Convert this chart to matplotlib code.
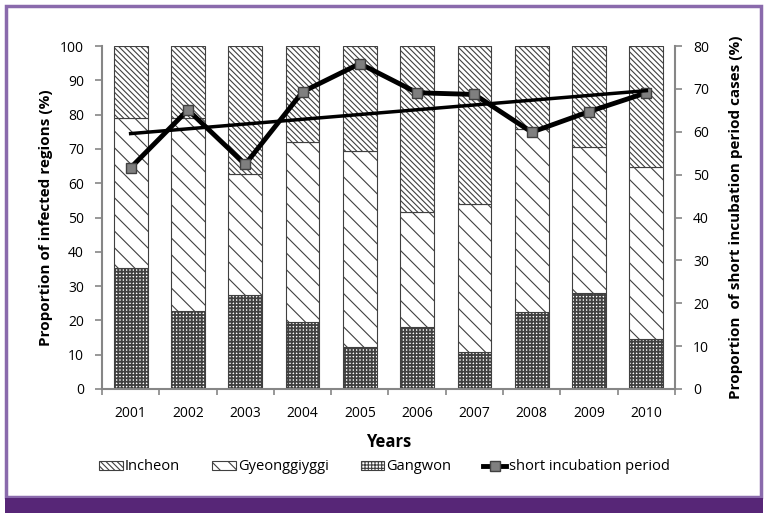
import numpy as np
import matplotlib
matplotlib.use("Agg")
import matplotlib.pyplot as plt
from matplotlib.patches import Rectangle

plt.rcParams['font.family'] = ['Open Sans', 'DejaVu Sans']
plt.rcParams['hatch.linewidth'] = 0.8

years = ['2001', '2002', '2003', '2004', '2005', '2006', '2007', '2008', '2009', '2010']
gangwon = [35.2, 22.7, 27.4, 19.6, 12.3, 18.0, 10.7, 22.4, 27.9, 14.6]
# cumulative top of Gyeonggi segment
gg_top = [78.9, 79.0, 62.7, 72.1, 69.5, 51.6, 53.9, 75.8, 70.6, 64.8]
gyeonggi = [t - g for t, g in zip(gg_top, gangwon)]
incheon = [100 - t for t in gg_top]
short_inc = [51.6, 65.1, 52.4, 69.3, 75.9, 69.1, 68.7, 59.9, 64.7, 69.1]

x = np.arange(len(years))
grey = '#868686'

fig = plt.figure(figsize=(7.69, 5.17), dpi=100)
ax = fig.add_axes([0.1326, 0.2476, 0.7452, 0.6634])

w = 0.59
ec = '#404040'
plt.rcParams['hatch.linewidth'] = 1.3
b1 = ax.bar(x, gangwon, w, color='white', edgecolor=ec, hatch='+++++', linewidth=0.8, label='Gangwon')
plt.rcParams['hatch.linewidth'] = 0.8
b2 = ax.bar(x, gyeonggi, w, bottom=gangwon, color='white', edgecolor=ec, hatch='\\\\', linewidth=0.8, label='Gyeonggiyggi')
b3 = ax.bar(x, incheon, w, bottom=gg_top, color='white', edgecolor=ec, hatch='\\\\\\\\\\\\', linewidth=0.8, label='Incheon')
for p in b1:
    if hasattr(p, 'set_hatch_linewidth'):
        p.set_hatch_linewidth(1.3)

ax.set_xlim(-0.5, len(years) - 0.5)
ax.set_ylim(0, 100)
ax.set_yticks(range(0, 101, 10))
ax.set_xticks(x)
ax.set_xticklabels(years)
ax.set_xticks(np.arange(-0.5, len(years), 1), minor=True)
ax.tick_params(axis='x', which='major', length=0, pad=12, labelsize=10)
ax.tick_params(axis='x', which='minor', length=4, color=grey, width=1.2)
ax.tick_params(axis='y', length=5, color=grey, width=1.2, labelsize=10, pad=8)
for s in ['top', 'right']:
    ax.spines[s].set_visible(False)
for s in ['left', 'bottom']:
    ax.spines[s].set_color(grey)
    ax.spines[s].set_linewidth(1.5)
ax.set_ylabel('Proportion of infected regions (%)', fontsize=11, fontweight='bold', labelpad=5)
ax.set_xlabel('Years', fontsize=12, fontweight='bold', labelpad=9)

ax2 = ax.twinx()
ax2.set_ylim(0, 80)
ax2.set_yticks(range(0, 81, 10))
ax2.tick_params(axis='y', length=5, color=grey, width=1.2, labelsize=10, pad=8)
for s in ['top', 'left', 'bottom']:
    ax2.spines[s].set_visible(False)
ax2.spines['right'].set_color(grey)
ax2.spines['right'].set_linewidth(1.5)
ax2.set_ylabel('Proportion  of short incubation period cases (%)', fontsize=11, fontweight='bold', labelpad=14)

ln, = ax2.plot(x, short_inc, color='black', lw=3.5, marker='s', markersize=7,
               markerfacecolor='#7f7f7f', markeredgecolor='#404040', markeredgewidth=1,
               label='short incubation period')
coef = np.polyfit(x, short_inc, 1)
ax2.plot(x, np.polyval(coef, x), color='black', lw=2.5)

fig.legend([b3, b2, b1, ln], ['Incheon', 'Gyeonggiyggi', 'Gangwon', 'short incubation period'],
           loc='center', bbox_to_anchor=(0.5, 0.097), ncol=4, frameon=False, fontsize=10.5,
           handlelength=1.6, handleheight=0.55, handletextpad=0.15, columnspacing=2.2)

# frame and bottom band
fig.patches.append(Rectangle((6 / 769, 1 - 497 / 517), 755 / 769, 491 / 517, transform=fig.transFigure,
                             fill=False, edgecolor='#8a6aac', linewidth=2.5))
fig.patches.append(Rectangle((5 / 769, 1 - 513 / 517), 758 / 769, 15 / 517, transform=fig.transFigure,
                             facecolor='#572677', edgecolor='none'))

fig.savefig('out.png', dpi=100)
